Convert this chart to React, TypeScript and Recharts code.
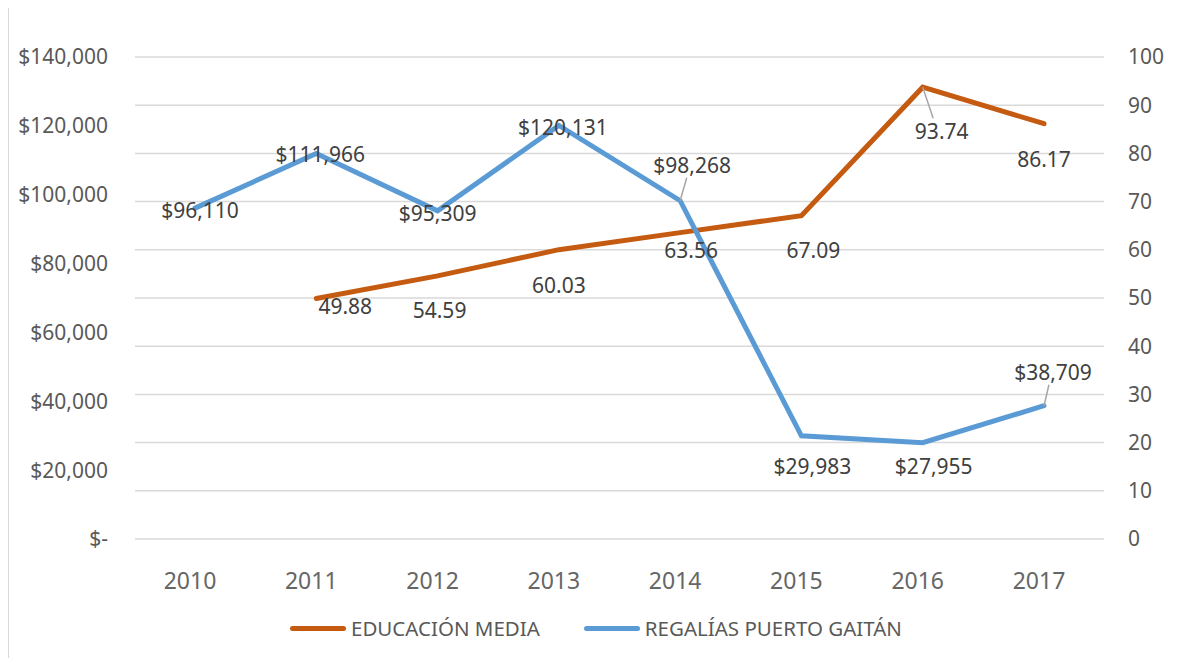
import React from 'react';
import {
  LineChart,
  Line,
  XAxis,
  YAxis,
  CartesianGrid,
  Legend,
  LabelList
} from 'recharts';

const years = ['2010', '2011', '2012', '2013', '2014', '2015', '2016', '2017'];
const educacionMedia = [null, 49.88, 54.59, 60.03, 63.56, 67.09, 93.74, 86.17];
const regalias = [96110, 111966, 95309, 120131, 98268, 29983, 27955, 38709];
const leftTicks = [0, 20000, 40000, 60000, 80000, 100000, 120000, 140000];
const rightTicks = [0, 10, 20, 30, 40, 50, 60, 70, 80, 90, 100];

const data = years.map((year, i) => ({
  year,
  educacion: educacionMedia[i],
  regalias: regalias[i]
}));

const ORANGE = '#C55A11';
const BLUE = '#5B9BD5';
const FONT = "'Noto Sans', sans-serif";

// label placement (Excel moved some labels by hand)
const blueLabelOffsets = [[5, 2], [4, 0], [0, 2], [4, 2], [12, -36], [11, 30], [11, 23], [9, -34]];
const blueLeaders = [false, false, false, false, true, false, false, true];
const orangeLabelOffsets = [[0, 0], [29, 7], [2, 34], [0, 35], [11, 17], [12, 34], [19, 44], [0, 35]];
const orangeLeaders = [false, false, false, false, false, false, true, false];

const formatMoney = (v: number) => (v === 0 ? '$-' : '$' + v.toLocaleString('en-US'));

const makeLabel = (offsets: number[][], leaders: boolean[], fmt: (v: number) => string) => (props: any) => {
  const { x, y, value, index } = props;
  if (value == null) return null;
  const [dx, dy] = offsets[index];
  const lx = x + dx;
  const ly = y + dy;
  let leader = null;
  if (leaders[index]) {
    const towardY = dy < 0 ? ly + 13 : ly - 13;
    leader = <line x1={x} y1={y} x2={x + (lx - x) * 0.55} y2={towardY} stroke="#a6a6a6" strokeWidth={1.5} />;
  }
  return (
    <g>
      {leader}
      <text x={lx} y={ly} textAnchor="middle" dominantBaseline="central" fill="#404040" fontSize={21} fontFamily={FONT}>
        {fmt(value)}
      </text>
    </g>
  );
};

const renderLegend = () => (
  <div style={{ display: 'flex', alignItems: 'center', height: 30, paddingLeft: 282, fontFamily: FONT, fontSize: 20.5, color: '#595959' }}>
    <span style={{ display: 'inline-block', width: 56, height: 5, borderRadius: 3, background: ORANGE, marginRight: 5 }} />
    <span style={{ marginRight: 44 }}>EDUCACIÓN MEDIA</span>
    <span style={{ display: 'inline-block', width: 56, height: 5, borderRadius: 3, background: BLUE, marginRight: 5 }} />
    <span>REGALÍAS PUERTO GAITÁN</span>
  </div>
);

export default function App() {
  return (
    <div style={{ position: 'relative', width: 1172, height: 650 }}>
      <div
        style={{
          position: 'absolute',
          left: 0,
          top: -2,
          width: 1177,
          height: 660,
          border: '1px solid #d9d9d9',
          boxSizing: 'border-box',
          pointerEvents: 'none'
        }}
      />
      <LineChart width={1172} height={650} data={data} margin={{ top: 49, right: 0, bottom: 15, left: 0 }}>
        <CartesianGrid yAxisId="right" vertical={false} stroke="#d9d9d9" strokeWidth={1.5} />
        <XAxis
          dataKey="year"
          axisLine={false}
          tickLine={false}
          tickSize={0}
          tickMargin={34}
          height={74}
          padding={{ left: 60, right: 60 }}
          tick={{ fill: '#666666', fontSize: 23, fontFamily: FONT, dx: -5 }}
        />
        <YAxis
          yAxisId="left"
          domain={[0, 140000]}
          ticks={leftTicks}
          tickFormatter={formatMoney}
          axisLine={false}
          tickLine={false}
          tickSize={0}
          tickMargin={27}
          width={127}
          tick={{ fill: '#595959', fontSize: 21, fontFamily: FONT }}
        />
        <YAxis
          yAxisId="right"
          orientation="right"
          domain={[0, 100]}
          ticks={rightTicks}
          axisLine={false}
          tickLine={false}
          tickSize={0}
          tickMargin={24}
          width={76}
          tick={{ fill: '#595959', fontSize: 21, fontFamily: FONT }}
        />
        <Legend verticalAlign="bottom" align="left" height={30} content={renderLegend} />
        <Line
          yAxisId="right"
          type="linear"
          dataKey="educacion"
          name="EDUCACIÓN MEDIA"
          stroke={ORANGE}
          strokeWidth={5}
          strokeLinecap="round"
          dot={false}
          activeDot={false}
          isAnimationActive={false}
        >
          <LabelList dataKey="educacion" content={makeLabel(orangeLabelOffsets, orangeLeaders, (v) => v.toFixed(2))} />
        </Line>
        <Line
          yAxisId="left"
          type="linear"
          dataKey="regalias"
          name="REGALÍAS PUERTO GAITÁN"
          stroke={BLUE}
          strokeWidth={5}
          strokeLinecap="round"
          dot={false}
          activeDot={false}
          isAnimationActive={false}
        >
          <LabelList dataKey="regalias" content={makeLabel(blueLabelOffsets, blueLeaders, formatMoney)} />
        </Line>
      </LineChart>
    </div>
  );
}
